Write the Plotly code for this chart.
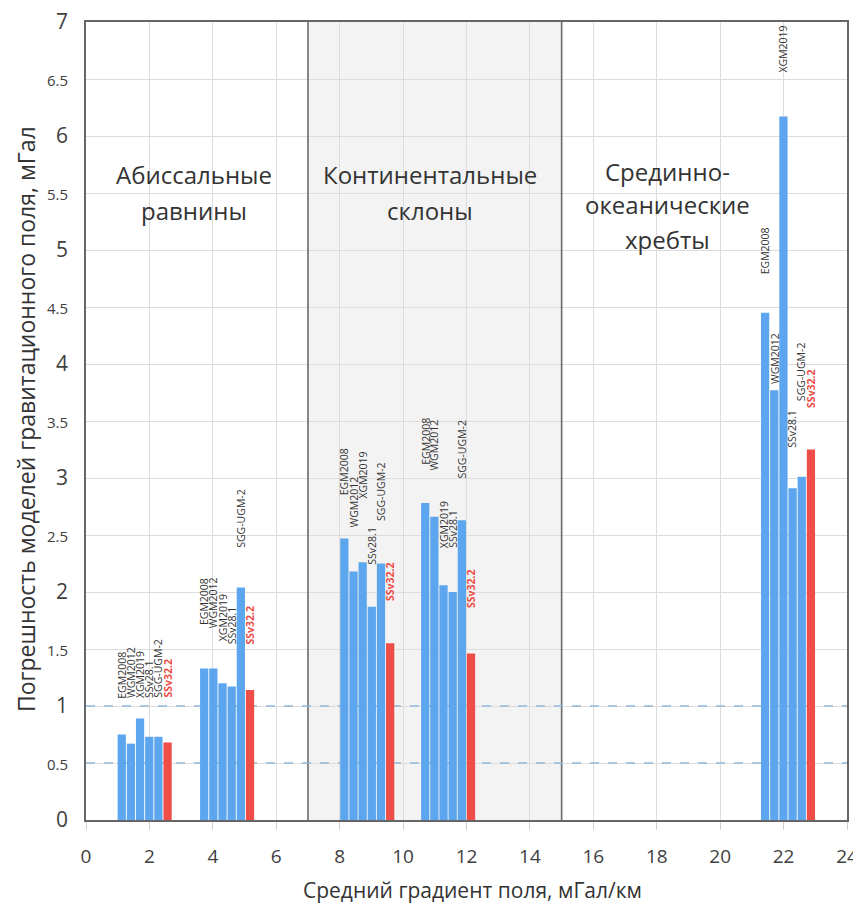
import plotly.graph_objects as go

# ---- data ----
models = ["EGM2008", "WGM2012", "XGM2019", "SSv28.1", "SGG-UGM-2", "SSv32.2"]
gradient = [1.85, 4.45, 8.87, 11.42, 22.14]  # mean field gradient of each test area, mGal/km
egm2008 = [0.75, 1.33, 2.47, 2.78, 4.45]
wgm2012 = [0.67, 1.33, 2.18, 2.66, 3.77]
xgm2019 = [0.89, 1.20, 2.26, 2.06, 6.17]
ssv281 = [0.73, 1.17, 1.87, 2.00, 2.91]
sggugm2 = [0.73, 2.04, 2.25, 2.63, 3.01]
ssv322 = [0.68, 1.14, 1.55, 1.46, 3.25]
series = [egm2008, wgm2012, xgm2019, ssv281, sggugm2, ssv322]

regions = [
    (["Абиссальные", "равнины"], 3.40, [5.66, 5.35]),
    (["Континентальные", "склоны"], 10.85, [5.66, 5.35]),
    (["Срединно-", "океанические", "хребты"], 18.34, [5.69, 5.40, 5.09]),
]
slope_zone = [7, 15]
ref_levels = [0.5, 1.0]
x_ticks = list(range(0, 25, 2))
y_ticks = [i * 0.5 for i in range(15)]

# ---- styles / positions ----
BLUE = "#5ba6ee"
RED = "#ee4e47"
OFF = 8                      # page body margin of the html page
W, H = 853, 897
ML, MT = 86 - OFF, 22 - OFF
PLOT_W, PLOT_H = 761, 798
MR = W - ML - PLOT_W
MB = H - MT - PLOT_H
BARGAP, GROUPGAP = 0.32, 0.10
# vertical pixel gap between each bar top and its label (per group, per model)
label_gap = [
    [34, 44, 18, 37, 37, 43],
    [41, 38, 40, 40, 38, 43],
    [41, 42, 62, 40, 40, 40],
    [36, 44, 35, 42, 40, 43],
    [36, 4, 42, 38, 74, 40],
]

fig = go.Figure()
for k, (name, vals) in enumerate(zip(models, series)):
    fig.add_trace(go.Bar(
        x=gradient, y=vals, name=name,
        marker=dict(color=RED if k == 5 else BLUE, line=dict(width=0)),
        showlegend=False,
    ))

min_diff = min(b - a for a, b in zip(gradient[:-1], gradient[1:]))
slot = (1 - BARGAP) * min_diff / len(models)

annotations = []
for g, gx in enumerate(gradient):
    for k, name in enumerate(models):
        bx = gx + (k - (len(models) - 1) / 2) * slot
        red = k == 5
        annotations.append(dict(
            x=bx, y=series[k][g], xref="x", yref="y",
            text=f"<b>{name}</b>" if red else name,
            textangle=-90, showarrow=False,
            xanchor="center", yanchor="bottom", yshift=label_gap[g][k],
            font=dict(family="Open Sans", size=10.5, color=RED if red else "#333333"),
        ))

for lines, rx, ys in regions:
    for t, yy in zip(lines, ys):
        annotations.append(dict(
            x=rx, y=yy, xref="x", yref="y", text=t, showarrow=False,
            xanchor="center", yanchor="middle",
            font=dict(family="Open Sans", size=24, color="#333333"),
        ))

def px2paper_x(px):          # page pixel -> paper
    return (px - OFF - ML) / PLOT_W
def py2paper_y(py):
    return (MT + PLOT_H - (py - OFF)) / PLOT_H

# axis titles
annotations.append(dict(
    x=px2paper_x(26), y=py2paper_y(419), xref="paper", yref="paper",
    text="Погрешность моделей гравитационного поля, мГал", textangle=-90,
    showarrow=False, xanchor="center", yanchor="middle",
    font=dict(family="Open Sans", size=23, color="#333333"),
))
annotations.append(dict(
    x=px2paper_x(472), y=py2paper_y(890), xref="paper", yref="paper",
    text="Средний градиент поля, мГал/км",
    showarrow=False, xanchor="center", yanchor="middle",
    font=dict(family="Open Sans", size=21, color="#333333"),
))

shapes = [
    dict(type="rect", xref="x", yref="y", x0=slope_zone[0], x1=slope_zone[1], y0=0, y1=7,
         fillcolor="#f3f3f3", line=dict(width=0), layer="below"),
]
for xv in slope_zone:
    shapes.append(dict(type="line", xref="x", yref="y", x0=xv, x1=xv, y0=0, y1=7,
                       line=dict(color="#6a6a6a", width=1.6), layer="between"))
for lv in ref_levels:
    shapes.append(dict(type="line", xref="x", yref="y", x0=0, x1=24, y0=lv, y1=lv,
                       line=dict(color="#94b9da", width=1.6, dash="dash"), layer="between"))

ytext = []
for v in y_ticks:
    if abs(v - round(v)) < 1e-9:
        ytext.append(f"{int(round(v))}")
    else:
        ytext.append(f'<span style="font-size:15px">{v:g}</span>')

fig.update_layout(
    width=W, height=H,
    margin=dict(l=ML, r=MR, t=MT, b=MB, pad=0),
    paper_bgcolor="white", plot_bgcolor="white",
    barmode="group", bargap=BARGAP, bargroupgap=GROUPGAP,
    font=dict(family="Open Sans", color="#404040"),
    annotations=annotations, shapes=shapes,
    xaxis=dict(
        range=[0, 24], tickvals=x_ticks, ticktext=[str(v) for v in x_ticks],
        tickfont=dict(size=19, color="#404040"),
        showgrid=True, gridcolor="#dcdcdc", gridwidth=1,
        showline=True, linecolor="#666666", linewidth=1.6, mirror=True,
        ticks="outside", ticklen=8, tickcolor="#d0d0d0",
        zeroline=False, automargin=False, ticklabelstandoff=10,
        ticklabeloverflow="allow",
    ),
    yaxis=dict(
        range=[0, 7], tickvals=y_ticks, ticktext=ytext,
        tickfont=dict(size=21, color="#404040"),
        showgrid=True, gridcolor="#dcdcdc", gridwidth=1,
        showline=True, linecolor="#666666", linewidth=1.6, mirror=True,
        ticks="", zeroline=False, ticklabelstandoff=12, automargin=False,
        ticklabeloverflow="allow",
    ),
)

fig.write_html("out.html")
